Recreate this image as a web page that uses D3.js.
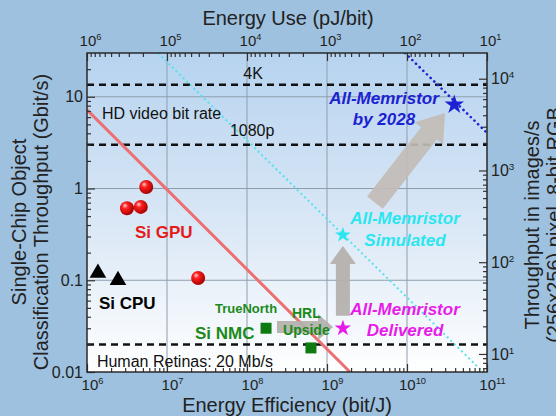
<!DOCTYPE html>
<html>
<head>
<meta charset="utf-8">
<script src="https://cdn.jsdelivr.net/npm/d3@7"></script>
<style>
  html, body { margin: 0; padding: 0; background: #9dc1df; }
  svg { display: block; font-family: 'Liberation Sans', Arial, sans-serif; }
</style>
</head>
<body>
<div class="chart_container"></div>
<script>
'use strict';

// ---- data (bit/J on x, Gbit/s on y) ----
const gpuEff = [5.5e6, 3.16e6, 4.7e6, 2.45e7];
const gpuThr = [1.04, 0.61, 0.63, 0.106];
const cpuEff = [1.37e6, 2.44e6];
const cpuThr = [0.12, 0.10];
const nmcEff = [1.73e8, 6.3e8];
const nmcThr = [0.030, 0.0183];
const starNames = ['Delivered', 'Simulated', 'by 2028'];
const starEff = [1.58e9, 1.58e9, 3.9e10];
const starThr = [0.030, 0.312, 8.2];
const starColors = ['#e81ce8', '#2ae6f0', '#1c22d2'];
const starSizes = [84, 76, 118];

// reference bit rates (Gbit/s)
const refNames = ['4K', '1080p', 'Human Retinas'];
const refRates = [13.5, 3.0, 0.02];

// trend lines: [x0, y0, x1, y1]
const redLine = [1e6, 7.2, 1.94e9, 0.01];
const cyanLine = [7.7e6, 30, 8.9e10, 0.01];
const blueLine = [9.44e9, 30, 1e11, 4.04];

// gray progress arrows: [x0, y0, x1, y1]
const arrows = [
  [2.37e8, 0.031, 1.19e9, 0.031],
  [1.58e9, 0.041, 1.58e9, 0.237],
  [3.98e9, 0.70, 2.98e10, 6.67]
];

// tick labels
const effTicks = [1e6, 1e7, 1e8, 1e9, 1e10, 1e11];
const effExp = ['6', '7', '8', '9', '10', '11'];
const useTicks = [1e6, 1e5, 1e4, 1e3, 1e2, 1e1];
const useExp = ['6', '5', '4', '3', '2', '1'];
const thrTicks = [0.01, 0.1, 1, 10];
const thrLabels = ['0.01', '0.1', '1', '10'];
const imgTicks = [10, 100, 1000, 10000];
const imgExp = ['1', '2', '3', '4'];

const bitsPerImage = 256 * 256 * 24;

const width = 556,
  height = 416,
  plotL = 87, plotR = 487, plotT = 53, plotB = 372;

const svg = d3.select('.chart_container')
  .append('svg')
  .attr('width', width)
  .attr('height', height);

const x = d3.scaleLog().domain([1e6, 1e11]).range([plotL, plotR]);
const xTop = d3.scaleLog().domain([1e6, 1e1]).range([plotL, plotR]);
const y = d3.scaleLog().domain([0.01, 30]).range([plotB, plotT]);
const yImg = d3.scaleLog()
  .domain([0.01e9 / bitsPerImage, 30e9 / bitsPerImage])
  .range([plotB, plotT]);

const defs = svg.append('defs');
const bg = defs.append('linearGradient').attr('id', 'bg')
  .attr('x1', 0).attr('y1', 0).attr('x2', 0).attr('y2', 1);
bg.append('stop').attr('offset', '0%').attr('stop-color', '#b6d3ef');
bg.append('stop').attr('offset', '55%').attr('stop-color', '#dbe8f6');
bg.append('stop').attr('offset', '100%').attr('stop-color', '#ffffff');

const ball = defs.append('radialGradient').attr('id', 'ball')
  .attr('cx', '40%').attr('cy', '40%').attr('r', '60%').attr('fx', '35%').attr('fy', '30%');
ball.append('stop').attr('offset', '0%').attr('stop-color', '#ffd0d0');
ball.append('stop').attr('offset', '35%').attr('stop-color', '#ff2020');
ball.append('stop').attr('offset', '100%').attr('stop-color', '#a80000');

defs.append('clipPath').attr('id', 'clip')
  .append('rect').attr('x', plotL).attr('y', plotT)
  .attr('width', plotR - plotL).attr('height', plotB - plotT);

svg.append('rect')
  .attr('x', plotL).attr('y', plotT)
  .attr('width', plotR - plotL).attr('height', plotB - plotT)
  .attr('fill', 'url(#bg)');

const plot = svg.append('g').attr('clip-path', 'url(#clip)');

// grid
plot.selectAll('.vgrid')
  .data(effTicks.slice(1, -1))
  .enter().append('line')
  .attr('x1', d => x(d)).attr('x2', d => x(d))
  .attr('y1', plotT).attr('y2', plotB)
  .attr('stroke', '#8f9eae').attr('stroke-width', 1);

plot.selectAll('.hgrid')
  .data(thrTicks.slice(1))
  .enter().append('line')
  .attr('x1', plotL).attr('x2', plotR)
  .attr('y1', d => y(d)).attr('y2', d => y(d))
  .attr('stroke', '#8f9eae').attr('stroke-width', 1);

// reference bit rates
plot.selectAll('.ref')
  .data(refRates)
  .enter().append('line')
  .attr('x1', plotL).attr('x2', plotR)
  .attr('y1', d => y(d)).attr('y2', d => y(d))
  .attr('stroke', '#111').attr('stroke-width', 2.5)
  .attr('stroke-dasharray', '7,5');

// trend lines
const seg = l => `M${x(l[0])},${y(l[1])}L${x(l[2])},${y(l[3])}`;
plot.append('path').attr('d', seg(redLine))
  .attr('stroke', '#ec7072').attr('stroke-width', 3).attr('fill', 'none');
plot.append('path').attr('d', seg(cyanLine))
  .attr('stroke', '#55e2ee').attr('stroke-width', 2)
  .attr('stroke-dasharray', '2,3').attr('fill', 'none');
plot.append('path').attr('d', seg(blueLine))
  .attr('stroke', '#1c22d2').attr('stroke-width', 2.6)
  .attr('stroke-linecap', 'round')
  .attr('stroke-dasharray', '0.1,5').attr('fill', 'none');

// arrows
const shaft = [12, 14, 20], headW = [26, 26, 36], headL = [15, 18, 26];
function arrowPath(a, i) {
  const x0 = x(a[0]), y0 = y(a[1]), x1 = x(a[2]), y1 = y(a[3]);
  const dx = x1 - x0, dy = y1 - y0, len = Math.hypot(dx, dy);
  const ux = dx / len, uy = dy / len, nx = -uy, ny = ux;
  const sw = shaft[i] / 2, hw = headW[i] / 2, bx = x1 - ux * headL[i], by = y1 - uy * headL[i];
  const p = [
    [x0 + nx * sw, y0 + ny * sw], [bx + nx * sw, by + ny * sw], [bx + nx * hw, by + ny * hw],
    [x1, y1],
    [bx - nx * hw, by - ny * hw], [bx - nx * sw, by - ny * sw], [x0 - nx * sw, y0 - ny * sw]
  ];
  return 'M' + p.map(q => q.join(',')).join('L') + 'Z';
}
plot.selectAll('.arrow')
  .data(arrows)
  .enter().append('path')
  .attr('d', arrowPath)
  .attr('fill', (d, i) => i === 2 ? '#c2bcb6' : '#b3afab')
  .attr('opacity', 0.92);

// markers
plot.selectAll('.gpu')
  .data(gpuEff)
  .enter().append('circle')
  .attr('cx', d => x(d)).attr('cy', (d, i) => y(gpuThr[i]))
  .attr('r', 7).attr('fill', 'url(#ball)');

plot.selectAll('.cpu')
  .data(cpuEff)
  .enter().append('path')
  .attr('d', d3.symbol(d3.symbolTriangle, 120))
  .attr('transform', (d, i) => `translate(${x(d)},${y(cpuThr[i])})`)
  .attr('fill', '#000');

plot.selectAll('.nmc')
  .data(nmcEff)
  .enter().append('path')
  .attr('d', d3.symbol(d3.symbolSquare, 121))
  .attr('transform', (d, i) => `translate(${x(d)},${y(nmcThr[i])})`)
  .attr('fill', '#0e7a12');

plot.selectAll('.star')
  .data(starEff)
  .enter().append('path')
  .attr('d', (d, i) => d3.symbol(d3.symbolStar, starSizes[i])())
  .attr('transform', (d, i) => `translate(${x(d)},${y(starThr[i])})`)
  .attr('fill', (d, i) => starColors[i]);

// labels: text, x, y, colour, size, weight, style, anchor
const labels = [
  ['4K', 1.19e8, 15.7, '#111', 16, 'normal', 'normal', 'middle'],
  ['HD video bit rate', 1.54e6, 5.74, '#111', 16, 'normal', 'normal', 'start'],
  ['1080p', 1.16e8, 3.75, '#111', 16, 'normal', 'normal', 'middle'],
  ['Human Retinas: 20 Mb/s', 1.33e6, 0.01135, '#111', 16, 'normal', 'normal', 'start'],
  ['Si GPU', 3.98e6, 0.289, '#e41b1b', 17, 'bold', 'normal', 'start'],
  ['Si CPU', 1.41e6, 0.0486, '#000', 17, 'bold', 'normal', 'start'],
  ['TrueNorth', 3.98e7, 0.044, '#1b8a1b', 13, 'bold', 'normal', 'start'],
  ['Si NMC', 2.24e7, 0.0229, '#1b8a1b', 17, 'bold', 'normal', 'start'],
  ['HRL', 3.65e8, 0.0388, '#1b8a1b', 14, 'bold', 'normal', 'start'],
  ['Upside', 2.82e8, 0.0253, '#1b8a1b', 14, 'bold', 'normal', 'start'],
  ['All-Memristor', 9.44e9, 0.0419, '#e81ce8', 17, 'bold', 'italic', 'middle'],
  ['Delivered', 9.44e9, 0.0247, '#e81ce8', 17, 'bold', 'italic', 'middle'],
  ['All-Memristor', 9.44e9, 0.411, '#2ae6f0', 17, 'bold', 'italic', 'middle'],
  ['Simulated', 9.44e9, 0.2366, '#2ae6f0', 17, 'bold', 'italic', 'middle'],
  ['All-Memristor', 5.16e9, 8.37, '#1c22d2', 17, 'bold', 'italic', 'middle'],
  ['by 2028', 5.16e9, 4.94, '#1c22d2', 17, 'bold', 'italic', 'middle']
];
svg.selectAll('.label')
  .data(labels)
  .enter().append('text')
  .attr('x', d => x(d[1])).attr('y', d => y(d[2]))
  .attr('fill', d => d[3])
  .attr('font-size', d => d[4])
  .attr('font-weight', d => d[5])
  .attr('font-style', d => d[6])
  .attr('text-anchor', d => d[7])
  .text(d => d[0]);

// axes (ticks point inward)
function minors(lo, hi) {
  const out = [];
  for (let e = Math.floor(Math.log10(lo)); e <= Math.ceil(Math.log10(hi)); e++) {
    for (let k = 2; k <= 9; k++) {
      const v = k * Math.pow(10, e);
      if (v > lo && v < hi) out.push(v);
    }
  }
  return out;
}
const tickStyle = g => {
  g.select('.domain').remove();
  g.selectAll('.tick line').attr('stroke', '#333').attr('stroke-width', 1.2);
};

function supLabels(g, exps, size) {
  g.selectAll('.tick text').each(function (d, i) {
    const t = d3.select(this).text(null)
      .attr('font-size', size).attr('fill', '#222').attr('font-family', null);
    t.append('tspan').text('10');
    t.append('tspan').attr('dy', -6).attr('font-size', size * 0.62).text(exps[i]);
  });
}

svg.append('g').attr('transform', `translate(0,${plotB})`)
  .call(d3.axisBottom(x).tickValues(minors(1e6, 1e11)).tickSize(-4).tickFormat(''))
  .call(tickStyle);
svg.append('g').attr('transform', `translate(0,${plotB})`)
  .call(d3.axisBottom(x).tickValues(effTicks).tickSize(-8).tickPadding(7).tickFormat(''))
  .call(tickStyle)
  .call(g => supLabels(g, effExp, 15))
  .call(g => g.selectAll('.tick text').attr('x', 5));

svg.append('g').attr('transform', `translate(0,${plotT})`)
  .call(d3.axisTop(xTop).tickValues(minors(10, 1e6)).tickSize(-4).tickFormat(''))
  .call(tickStyle);
svg.append('g').attr('transform', `translate(0,${plotT})`)
  .call(d3.axisTop(xTop).tickValues(useTicks).tickSize(-8).tickPadding(7).tickFormat(''))
  .call(tickStyle)
  .call(g => supLabels(g, useExp, 15))
  .call(g => g.selectAll('.tick text').attr('x', 3));

svg.append('g').attr('transform', `translate(${plotL},0)`)
  .call(d3.axisLeft(y).tickValues(minors(0.01, 30)).tickSize(-4).tickFormat(''))
  .call(tickStyle);
svg.append('g').attr('transform', `translate(${plotL},0)`)
  .call(d3.axisLeft(y).tickValues(thrTicks).tickSize(-8).tickPadding(4)
    .tickFormat((d, i) => thrLabels[i]))
  .call(tickStyle)
  .call(g => g.selectAll('.tick text').attr('font-size', 16).attr('fill', '#222').attr('font-family', null));

svg.append('g').attr('transform', `translate(${plotR},0)`)
  .call(d3.axisRight(yImg).tickValues(minors(yImg.domain()[0], yImg.domain()[1])).tickSize(-4).tickFormat(''))
  .call(tickStyle);
svg.append('g').attr('transform', `translate(${plotR},0)`)
  .call(d3.axisRight(yImg).tickValues(imgTicks).tickSize(-8).tickPadding(4).tickFormat(''))
  .call(tickStyle)
  .call(g => supLabels(g, imgExp, 16))
  .call(g => g.selectAll('.tick text').attr('x', 4));

// frame
svg.append('rect')
  .attr('x', plotL).attr('y', plotT)
  .attr('width', plotR - plotL).attr('height', plotB - plotT)
  .attr('fill', 'none').attr('stroke', '#2a2a2a').attr('stroke-width', 1.5);

// axis titles
svg.append('text').attr('x', 288).attr('y', 25).attr('text-anchor', 'middle')
  .attr('font-size', 20).attr('fill', '#222').text('Energy Use (pJ/bit)');
svg.append('text').attr('x', 287).attr('y', 412).attr('text-anchor', 'middle')
  .attr('font-size', 20).attr('fill', '#222').text('Energy Efficiency (bit/J)');

const leftTitle = ['Single-Chip Object', 'Classification Throughput (Gbit/s)'];
svg.selectAll('.ltitle')
  .data(leftTitle)
  .enter().append('text')
  .attr('transform', (d, i) => `translate(${26 + i * 22},222) rotate(-90)`)
  .attr('text-anchor', 'middle').attr('font-size', 20).attr('fill', '#222')
  .text(d => d);

const rightTitle = ['Throughput in images/s', '(256x256) pixel, 8-bit RGB'];
svg.selectAll('.rtitle')
  .data(rightTitle)
  .enter().append('text')
  .attr('transform', (d, i) => `translate(${539 + i * 22},225) rotate(-90)`)
  .attr('text-anchor', 'middle').attr('font-size', 20).attr('fill', '#222')
  .text(d => d);
</script>
</body>
</html>
